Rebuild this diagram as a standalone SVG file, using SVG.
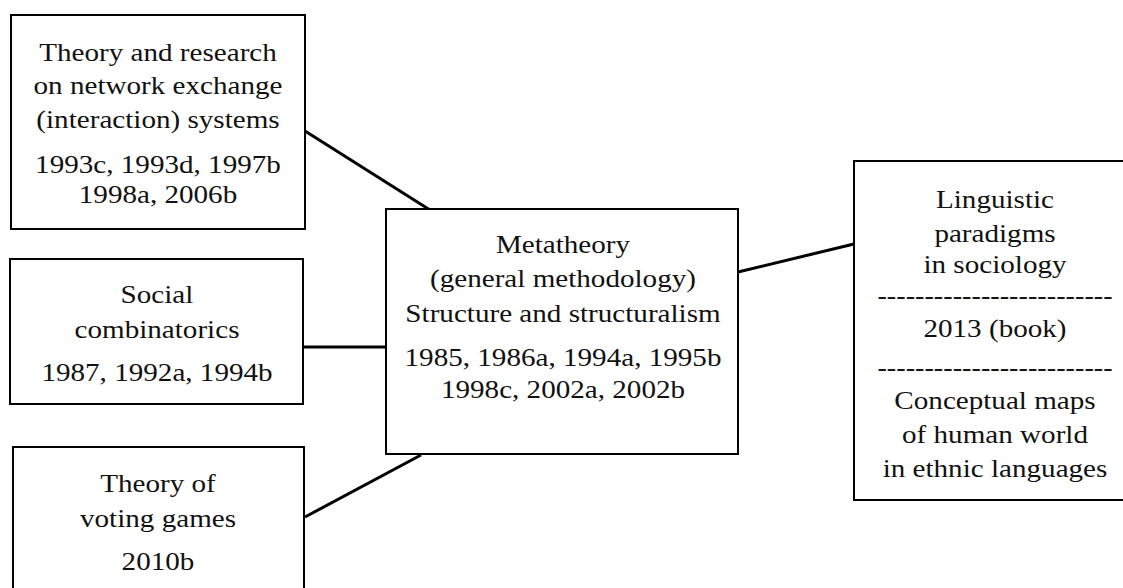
<svg xmlns="http://www.w3.org/2000/svg" width="1123" height="588" viewBox="0 0 1123 588">
<style>
.box{fill:#fff;stroke:#000;stroke-width:2}
.t{font-family:"Liberation Serif","Times New Roman",serif;font-size:26px;fill:#111;text-anchor:middle}
.c{stroke:#000;stroke-width:3;fill:none}
</style>
<rect width="1123" height="588" fill="#fff"/>
<g id="connectors">
<line class="c" x1="305" y1="131" x2="430" y2="210"/>
<line class="c" x1="303" y1="347" x2="386" y2="347"/>
<line class="c" x1="305" y1="517" x2="421" y2="455"/>
<line class="c" x1="738" y1="272" x2="854" y2="244"/>
</g>
<g id="network">
<rect class="box" x="11" y="15" width="294" height="214"/>
<g transform="translate(158 0) scale(1.12 1)">
<text class="t" x="0" y="61">Theory and research</text>
<text class="t" x="0" y="94">on network exchange</text>
<text class="t" x="0" y="128">(interaction) systems</text>
<text class="t" x="0" y="173">1993c, 1993d, 1997b</text>
<text class="t" x="0" y="203">1998a, 2006b</text>
</g>
</g>
<g id="combinatorics">
<rect class="box" x="10" y="259" width="293" height="145"/>
<g transform="translate(157 0) scale(1.12 1)">
<text class="t" x="0" y="303">Social</text>
<text class="t" x="0" y="338">combinatorics</text>
<text class="t" x="0" y="381">1987, 1992a, 1994b</text>
</g>
</g>
<g id="voting">
<rect class="box" x="13" y="447" width="291" height="160"/>
<g transform="translate(158 0) scale(1.12 1)">
<text class="t" x="0" y="492">Theory of</text>
<text class="t" x="0" y="527">voting games</text>
<text class="t" x="0" y="570">2010b</text>
</g>
</g>
<g id="metatheory">
<rect class="box" x="386" y="209" width="352" height="245"/>
<g transform="translate(563 0) scale(1.12 1)">
<text class="t" x="0" y="253">Metatheory</text>
<text class="t" x="0" y="287">(general methodology)</text>
<text class="t" x="0" y="322">Structure and structuralism</text>
<text class="t" x="0" y="366">1985, 1986a, 1994a, 1995b</text>
<text class="t" x="0" y="398">1998c, 2002a, 2002b</text>
</g>
</g>
<g id="linguistic">
<rect class="box" x="854" y="161" width="290" height="339"/>
<g transform="translate(995 0) scale(1.12 1)">
<text class="t" x="0" y="208">Linguistic</text>
<text class="t" x="0" y="242">paradigms</text>
<text class="t" x="0" y="273">in sociology</text>
<text class="t" x="0" y="304" textLength="210" lengthAdjust="spacingAndGlyphs">-------------------------</text>
<text class="t" x="0" y="337">2013 (book)</text>
<text class="t" x="0" y="376" textLength="210" lengthAdjust="spacingAndGlyphs">-------------------------</text>
<text class="t" x="0" y="409">Conceptual maps</text>
<text class="t" x="0" y="443">of human world</text>
<text class="t" x="0" y="477">in ethnic languages</text>
</g>
</g>
</svg>
